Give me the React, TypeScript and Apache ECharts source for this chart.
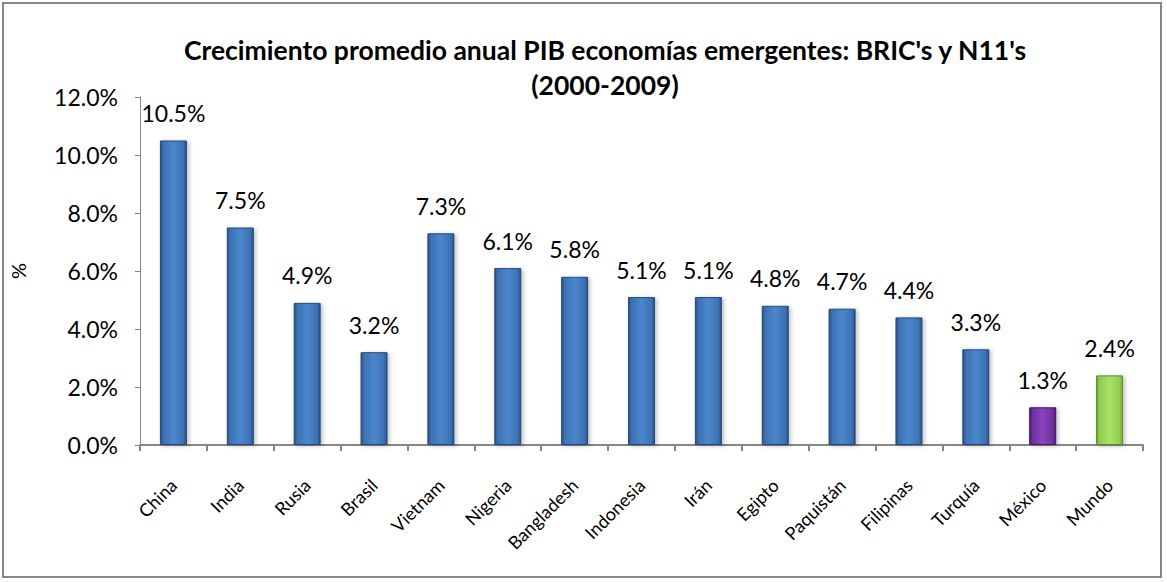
import React, { useEffect, useRef } from "react";
import * as echarts from "echarts";

const categories = ["China", "India", "Rusia", "Brasil", "Vietnam", "Nigeria", "Bangladesh", "Indonesia", "Irán", "Egipto", "Paquistán", "Filipinas", "Turquía", "México", "Mundo"];
const values = [10.5, 7.5, 4.9, 3.2, 7.3, 6.1, 5.8, 5.1, 5.1, 4.8, 4.7, 4.4, 3.3, 1.3, 2.4];
const yTicks = [0, 2, 4, 6, 8, 10, 12];
const titleText = "Crecimiento promedio anual PIB economías emergentes: BRIC's y N11's\n(2000-2009)";

const FONT = "Lato";

function grad(dark: string, mid: string, light: string) {
  return new echarts.graphic.LinearGradient(0, 0, 1, 0, [
    { offset: 0, color: dark },
    { offset: 0.12, color: mid },
    { offset: 0.5, color: light },
    { offset: 0.88, color: mid },
    { offset: 1, color: dark },
  ]);
}

function colorFor(name: string) {
  if (name === "México") return { fill: grad("#4b1f6f", "#7030a0", "#8a45bd"), border: "#3f1a5e" };
  if (name === "Mundo") return { fill: grad("#6fa338", "#92d050", "#a8e06a"), border: "#5e8a2e" };
  return { fill: grad("#2a4f80", "#3d72b4", "#4a86cc"), border: "#254a78" };
}

export default function App() {
  const ref = useRef<HTMLDivElement>(null);
  useEffect(() => {
    const chart = echarts.init(ref.current!, null, { renderer: "svg" });
    chart.setOption({
      animation: false,
      backgroundColor: "#ffffff",
      title: {
        text: titleText,
        left: 600,
        top: 27,
        textAlign: "center",
        textStyle: { fontFamily: FONT, fontWeight: "bold", fontSize: 26.5, lineHeight: 35, color: "#000" },
      },
      graphic: [
        { type: "rect", shape: { x: 3, y: 3, width: 1158, height: 574 }, style: { fill: "none", stroke: "#868686", lineWidth: 2 }, silent: true },
      ],
      grid: { left: 137, right: 24, top: 97, bottom: 137 },
      xAxis: {
        type: "category",
        data: categories,
        axisLine: { lineStyle: { color: "#868686", width: 2 } },
        axisTick: { show: true, alignWithLabel: false, length: 6, lineStyle: { color: "#868686", width: 2 } },
        axisLabel: { rotate: 45, interval: 0, fontFamily: FONT, fontSize: 18, color: "#000", margin: 37 },
      },
      yAxis: {
        type: "value",
        min: 0,
        max: 12,
        interval: 2,
        name: "%",
        nameLocation: "middle",
        nameGap: 112,
        nameRotate: 90,
        nameTextStyle: { fontFamily: FONT, fontSize: 20, color: "#000" },
        splitLine: { show: false },
        axisLine: { show: true, lineStyle: { color: "#868686", width: 1 } },
        axisTick: { show: true, length: 5, lineStyle: { color: "#868686" } },
        axisLabel: {
          fontFamily: FONT,
          fontSize: 23,
          color: "#000",
          margin: 22,
          formatter: (v: number) => (yTicks.includes(v) ? v.toFixed(1) + "%" : ""),
        },
      },
      series: [
        {
          type: "bar",
          barWidth: 27,
          data: values.map((v, i) => {
            const c = colorFor(categories[i]);
            return { value: v, itemStyle: { color: c.fill, borderColor: c.border, borderWidth: 1 } };
          }),
          itemStyle: { shadowColor: "rgba(0,0,0,0.25)", shadowBlur: 4, shadowOffsetX: 2, shadowOffsetY: 1 },
          label: {
            show: true,
            position: "top",
            distance: 16,
            fontFamily: FONT,
            fontSize: 23,
            color: "#000",
            formatter: (p: any) => p.value.toFixed(1) + "%",
          },
        },
      ],
    });
    return () => chart.dispose();
  }, []);
  return (
    <div style={{ position: "fixed", left: 0, top: 0, width: 1167, height: 582, background: "#fff" }}>
      <div ref={ref} style={{ width: 1167, height: 582 }} />
    </div>
  );
}
